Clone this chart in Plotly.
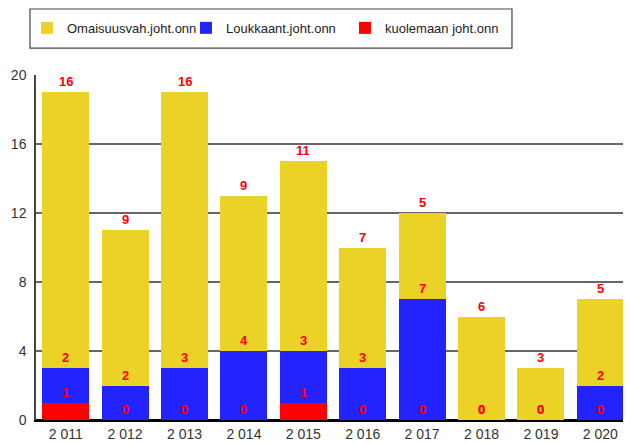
import plotly.graph_objects as go

years = ["2 011", "2 012", "2 013", "2 014", "2 015", "2 016", "2 017", "2 018", "2 019", "2 020"]
kuolemaan = [1, 0, 0, 0, 1, 0, 0, 0, 0, 0]
loukkaant = [2, 2, 3, 4, 3, 3, 7, 0, 0, 2]
omaisuus = [16, 9, 16, 9, 11, 7, 5, 6, 3, 5]

series = [
    ("kuolemaan joht.onn", kuolemaan, "#FF0000"),
    ("Loukkaant.joht.onn", loukkaant, "#2323FF"),
    ("Omaisuusvah.joht.onn", omaisuus, "#EBD226"),
]

FONT = "Liberation Sans, Arial, sans-serif"

fig = go.Figure()
cum = [0] * len(years)
annotations = []
for name, vals, color in series:
    fig.add_trace(go.Bar(x=years, y=vals, name=name, marker_color=color,
                         marker_line_width=0))
    cum = [c + v for c, v in zip(cum, vals)]
    for x, y, v in zip(years, cum, vals):
        annotations.append(dict(x=x, y=y, text="<b>%d</b>" % v, showarrow=False,
                                yanchor="bottom", yshift=1,
                                font=dict(family=FONT, size=13, color="#FF0000")))

fig.update_layout(
    width=623, height=435,
    barmode="stack", bargap=0.21,
    plot_bgcolor="white", paper_bgcolor="white",
    margin=dict(l=28, r=1, t=67, b=23),
    font=dict(family=FONT, size=13, color="#333333"),
    legend=dict(orientation="h", x=-0.0152, xanchor="left", y=1.18, yanchor="top",
                traceorder="reversed", borderwidth=0, bgcolor="rgba(0,0,0,0)",
                entrywidth=114, entrywidthmode="pixels",
                font=dict(family=FONT, size=13, color="#222222")),
    xaxis=dict(type="category", showgrid=False, showline=True, linecolor="#000000",
               linewidth=1.5, ticks="", ticklabelstandoff=0, automargin=False,
               tickfont=dict(size=14, color="#333333")),
    yaxis=dict(range=[0, 20], tickvals=[0, 4, 8, 12, 16, 20], showgrid=True,
               gridcolor="#666666", gridwidth=2, showline=True, linecolor="#444444",
               linewidth=1.5, zeroline=True, zerolinecolor="#000000", zerolinewidth=2,
               ticks="", ticklabelstandoff=5, automargin=False,
               tickfont=dict(size=14, color="#333333")),
    annotations=annotations,
    shapes=[
        dict(type="line", xref="paper", yref="paper", x0=1, x1=1, y0=0, y1=1,
             line=dict(color="#BBBBBB", width=1)),
        dict(type="rect", xref="paper", yref="paper", x0=-0.0101, x1=0.8013,
             y0=1.078, y1=1.1913, line=dict(color="#444444", width=1.2)),
    ],
)

fig.write_html("out.html")
